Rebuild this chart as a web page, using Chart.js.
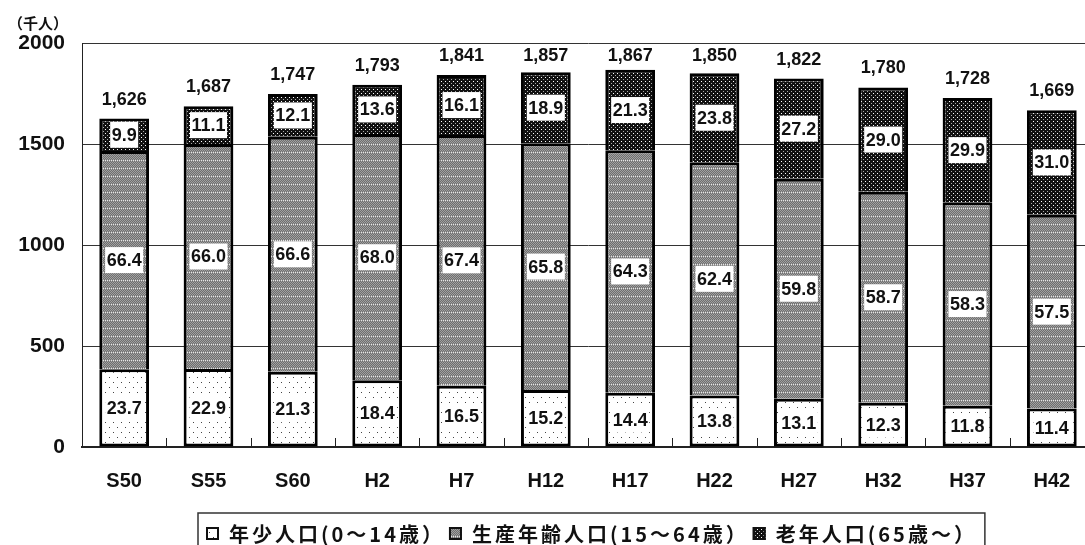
<!DOCTYPE html>
<html lang="ja">
<head>
<meta charset="utf-8">
<title>年齢3区分別人口の推移</title>
<script src="https://cdn.jsdelivr.net/npm/chart.js@4.4.1/dist/chart.umd.min.js"></script>
<style>
  html, body { margin: 0; padding: 0; background: #fff; overflow: hidden; }
  #wrap { width: 1100px; height: 545px; }
</style>
</head>
<body>
<div id="wrap"><canvas id="popChart" width="1100" height="545"></canvas></div>
<script>
// Population by age group (thousand people), shares in percent
const years = ['S50', 'S55', 'S60', 'H2', 'H7', 'H12', 'H17', 'H22', 'H27', 'H32', 'H37', 'H42'];
const totals = [1626, 1687, 1747, 1793, 1841, 1857, 1867, 1850, 1822, 1780, 1728, 1669];
const youngPct = [23.7, 22.9, 21.3, 18.4, 16.5, 15.2, 14.4, 13.8, 13.1, 12.3, 11.8, 11.4];
const workingPct = [66.4, 66.0, 66.6, 68.0, 67.4, 65.8, 64.3, 62.4, 59.8, 58.7, 58.3, 57.5];
const elderlyPct = [9.9, 11.1, 12.1, 13.6, 16.1, 18.9, 21.3, 23.8, 27.2, 29.0, 29.9, 31.0];
const legendLabels = ['年少人口(0～14歳）', '生産年齢人口(15～64歳）', '老年人口(65歳～）'];
const unitLabel = '（千人）';
const yMax = 2000;
const yStep = 500;

const NUM_FONT = '"Liberation Sans", Arial, sans-serif';
const JP_FONT = '"Noto Sans CJK JP", sans-serif';
Chart.defaults.font.family = NUM_FONT;

// small tiled fills for the three groups
function makePattern(w, h, bg, dots) {
  const c = document.createElement('canvas');
  c.width = w; c.height = h;
  const g = c.getContext('2d');
  g.fillStyle = bg;
  g.fillRect(0, 0, w, h);
  dots.forEach(([x, y, col]) => { g.fillStyle = col; g.fillRect(x, y, 1, 1); });
  return g.createPattern(c, 'repeat');
}

const workingDots = [];
for (let y = 0; y < 8; y++) {
  for (let x = 0; x < 8; x++) {
    if (y === 0) workingDots.push([x, y, x % 2 ? '#e6e6e6' : '#8a8a8a']);
    else workingDots.push([x, y, (x + y) % 2 ? '#6e6e6e' : '#a0a0a0']);
  }
}

const fills = [
  makePattern(8, 10, '#fff', [[1, 2, '#444'], [5, 7, '#444']]),
  makePattern(8, 8, '#808080', workingDots),
  makePattern(4, 4, '#111', [[1, 1, '#fff'], [3, 3, '#aaa']])
];

const shares = [youngPct, workingPct, elderlyPct];
const segment = pct => totals.map((t, i) => t * pct[i] / 100);

// percent boxes inside each segment and totals above the bars
const barLabels = {
  id: 'barLabels',
  afterDatasetsDraw(chart) {
    const ctx = chart.ctx;
    const ys = chart.scales.y;
    ctx.save();
    ctx.font = 'bold 18px ' + NUM_FONT;
    ctx.textAlign = 'center';
    ctx.textBaseline = 'middle';
    chart.data.datasets.forEach((ds, i) => {
      chart.getDatasetMeta(i).data.forEach((bar, j) => {
        const p = bar.getProps(['x', 'y', 'base'], true);
        const cy = (p.y + p.base) / 2;
        const txt = ds.pct[j].toFixed(1);
        const w = ctx.measureText(txt).width + 3;
        ctx.fillStyle = '#fff';
        ctx.fillRect(p.x - w / 2, cy - 13, w, 26);
        ctx.fillStyle = '#111';
        ctx.fillText(txt, p.x, cy + 1);
      });
    });
    const meta = chart.getDatasetMeta(0);
    totals.forEach((t, j) => {
      const top = ys.getPixelForValue(t);
      const cy = Math.max(top - 19, 56);
      ctx.fillStyle = '#111';
      ctx.fillText(t.toLocaleString('en-US'), meta.data[j].x, cy);
    });
    ctx.restore();
  },
  afterDraw(chart) {
    const ctx = chart.ctx;
    const xs = chart.scales.x;
    const area = chart.chartArea;
    ctx.save();

    // short ticks between categories
    ctx.strokeStyle = '#222';
    ctx.lineWidth = 1;
    for (let j = 1; j < years.length; j++) {
      const x = Math.round((xs.getPixelForTick(j - 1) + xs.getPixelForTick(j)) / 2) + 0.5;
      ctx.beginPath();
      ctx.moveTo(x, area.bottom - 9);
      ctx.lineTo(x, area.bottom);
      ctx.stroke();
    }

    // unit
    ctx.fillStyle = '#111';
    ctx.font = 'bold 15px ' + JP_FONT;
    ctx.textAlign = 'left';
    ctx.textBaseline = 'middle';
    ctx.fillText(unitLabel, 8, 23);

    // legend
    ctx.font = 'bold 20px ' + JP_FONT;
    if ('letterSpacing' in ctx) ctx.letterSpacing = '3px';
    const boxLeft = 198, boxTop = 513, mk = 13, ty = 534;
    let x = 206;
    legendLabels.forEach((lbl, i) => {
      ctx.fillStyle = fills[i];
      ctx.fillRect(x, ty - 7, mk, mk);
      ctx.strokeStyle = '#111';
      ctx.lineWidth = 2;
      ctx.strokeRect(x + 1, ty - 6, mk - 2, mk - 2);
      x += mk + 10;
      ctx.fillStyle = '#111';
      ctx.fillText(lbl, x, ty);
      x += ctx.measureText(lbl).width + 4;
    });
    const boxRight = x + 4;
    ctx.strokeStyle = '#333';
    ctx.lineWidth = 1.5;
    ctx.beginPath();
    ctx.moveTo(boxLeft, 545);
    ctx.lineTo(boxLeft, boxTop);
    ctx.lineTo(boxRight, boxTop);
    ctx.lineTo(boxRight, 545);
    ctx.stroke();
    ctx.restore();
  }
};

new Chart(document.getElementById('popChart'), {
  type: 'bar',
  data: {
    labels: years,
    datasets: shares.map((pct, i) => ({
      label: legendLabels[i],
      data: segment(pct),
      pct: pct,
      backgroundColor: fills[i],
      borderColor: '#000',
      borderWidth: 3,
      borderSkipped: i === 0 ? false : 'start'
    }))
  },
  options: {
    responsive: false,
    animation: false,
    events: [],
    layout: { padding: { top: 43, right: 6, bottom: 0, left: 0 } },
    datasets: { bar: { categoryPercentage: 1, barPercentage: 0.59 } },
    scales: {
      x: {
        stacked: true,
        grid: { display: false, drawTicks: false },
        border: { display: true, color: '#222', width: 2 },
        ticks: { color: '#111', font: { size: 20, weight: 'bold' }, padding: 22 },
        afterFit: s => { s.height = 98; }
      },
      y: {
        stacked: true,
        min: 0,
        max: yMax,
        grid: { color: '#333', lineWidth: 1, drawTicks: false },
        border: { display: true, color: '#222', width: 1 },
        ticks: {
          stepSize: yStep,
          color: '#111',
          font: { size: 21, weight: 'bold' },
          padding: 17,
          callback: v => String(v)
        },
        afterFit: s => { s.width = 82; }
      }
    },
    plugins: { legend: { display: false }, tooltip: { enabled: false } }
  },
  plugins: [barLabels]
});
</script>
</body>
</html>
